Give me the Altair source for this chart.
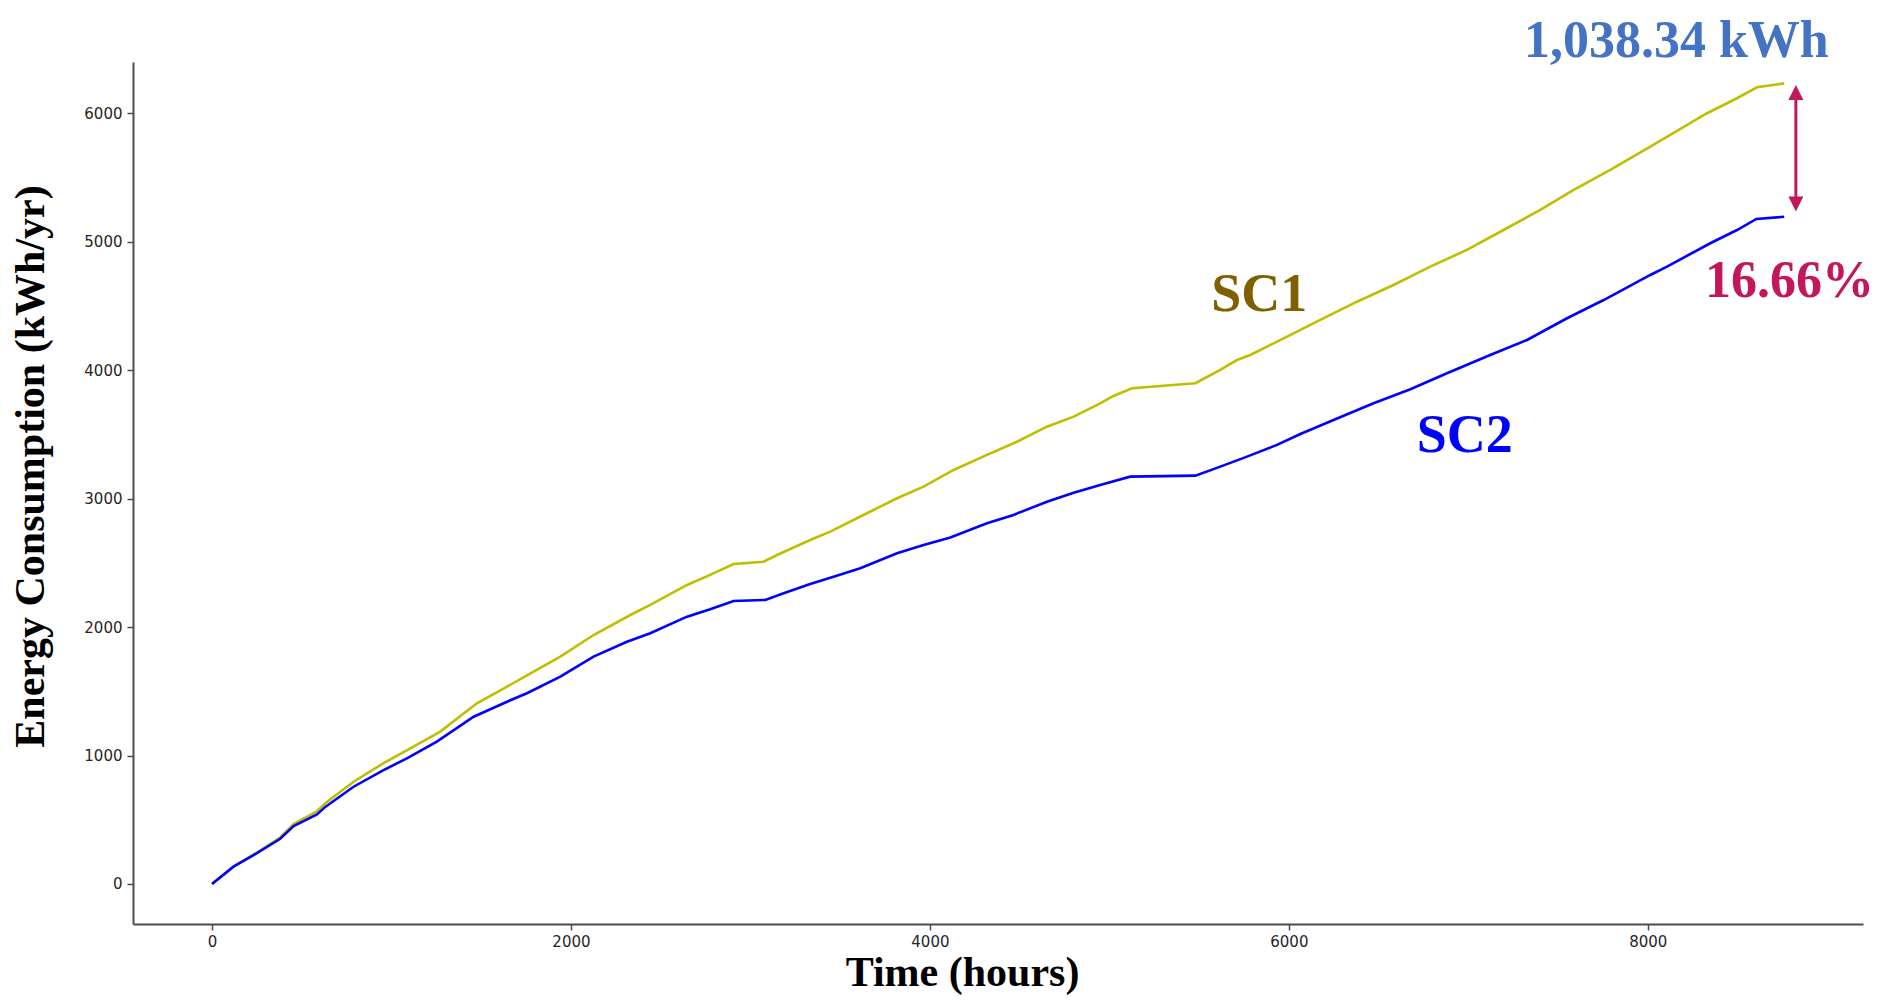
import altair as alt
import pandas as pd

# ---- data ----
sc1_hours = [0, 120, 232, 380, 455, 585, 631, 789, 956, 1123, 1272, 1476, 1644, 1792, 1941,
             2126, 2331, 2442, 2647, 2776, 2906, 3073, 3148, 3333, 3445, 3649, 3817, 3965,
             4132, 4318, 4485, 4652, 4801, 4949, 5023, 5126, 5479, 5618, 5711, 5785, 5971,
             6175, 6380, 6583, 6788, 6992, 7196, 7401, 7587, 7791, 8014, 8330, 8497, 8608, 8760]
sc1_kwh = [0, 136, 230, 362, 466, 566, 628, 796, 940, 1069, 1186, 1407, 1536, 1653, 1770,
           1938, 2094, 2172, 2328, 2406, 2491, 2509, 2561, 2678, 2743, 2886, 3003, 3093,
           3223, 3340, 3443, 3560, 3638, 3742, 3799, 3859, 3898, 4002, 4079, 4118, 4248,
           4391, 4533, 4663, 4806, 4936, 5091, 5247, 5403, 5559, 5740, 6000, 6117, 6202, 6232.5]

sc2_hours = [0, 120, 232, 380, 455, 585, 631, 789, 956, 1086, 1253, 1458, 1644, 1755, 1941,
             2126, 2312, 2442, 2647, 2776, 2906, 3083, 3185, 3333, 3463, 3612, 3817, 3965,
             4114, 4318, 4466, 4652, 4801, 4949, 5116, 5479, 5618, 5767, 5934, 6064, 6249,
             6472, 6677, 6881, 7122, 7327, 7550, 7754, 8014, 8107, 8348, 8497, 8605, 8760]
sc2_kwh = [0, 135, 224, 352, 450, 542, 600, 757, 887, 978, 1108, 1302, 1419, 1485, 1614,
           1770, 1886, 1952, 2081, 2139, 2203, 2211, 2263, 2336, 2392, 2458, 2574, 2639,
           2697, 2808, 2873, 2976, 3046, 3106, 3171, 3179, 3249, 3327, 3418, 3503, 3612,
           3742, 3851, 3976, 4118, 4235, 4404, 4546, 4741, 4806, 4988, 5091, 5177, 5194.2]

x_ticks = [0, 2000, 4000, 6000, 8000]
y_ticks = [0, 1000, 2000, 3000, 4000, 5000, 6000]

label_text = ["SC1", "SC2", "1,038.34 kWh", "16.66%"]
label_x = [5835, 6980, 8159, 8790]
label_y = [4463, 3359, 6440, 4572]
label_color = ["#7F6000", "#0000FF", "#4472C4", "#C2185B"]
label_size = [54, 54, 52, 52]

arrow_x = [8825]
arrow_low = [5293]
arrow_high = [6162]

# ---- tables ----
df = pd.concat([
    pd.DataFrame({"hour": sc1_hours, "kwh": sc1_kwh, "series": "SC1"}),
    pd.DataFrame({"hour": sc2_hours, "kwh": sc2_kwh, "series": "SC2"}),
])
labels = pd.DataFrame({"text": label_text, "x": label_x, "y": label_y,
                       "color": label_color, "size": label_size})
arrow = pd.DataFrame({"x": arrow_x, "lo": arrow_low, "hi": arrow_high})

xscale = alt.Scale(domain=[-440, 9199], nice=False, zero=False)
yscale = alt.Scale(domain=[-311.6, 6399], nice=False, zero=False)

axis_common = dict(
    labelFont="DejaVu Sans", labelFontSize=15, labelColor="#262626",
    domainColor="#4d4d4d", domainWidth=2, tickColor="#4d4d4d", tickWidth=1.5,
    tickSize=6, grid=False, format="d",
    titleFont="Liberation Serif", titleFontWeight="bold", titleFontSize=42,
    titleColor="#000000",
)

x_enc = alt.X("hour:Q", scale=xscale,
              axis=alt.Axis(values=x_ticks, title="Time (hours)", labelPadding=4,
                            titleX=829, titleY=61, titleAlign="center",
                            titleBaseline="alphabetic", **axis_common))
y_enc = alt.Y("kwh:Q", scale=yscale,
              axis=alt.Axis(values=y_ticks, title="Energy Consumption (kWh/yr)",
                            labelPadding=5, titleX=-90, titleY=404, titleAngle=-90,
                            titleAlign="center", titleBaseline="alphabetic",
                            **axis_common))

lines = alt.Chart(df).mark_line(strokeWidth=2.6).encode(
    x=x_enc, y=y_enc,
    color=alt.Color("series:N", scale=alt.Scale(domain=["SC1", "SC2"],
                                                range=["#BFBF00", "#0000FF"]),
                    legend=None),
    order=alt.Order("hour:Q"),
)

rule = alt.Chart(arrow).mark_rule(color="#C2185B", strokeWidth=3).encode(
    x=alt.X("x:Q", scale=xscale), y=alt.Y("lo:Q", scale=yscale), y2="hi:Q")
head_up = alt.Chart(arrow).mark_point(shape="M0,-1L1,1L-1,1Z", filled=True, size=225,
                                      color="#C2185B", opacity=1).encode(
    x=alt.X("x:Q", scale=xscale), y=alt.Y("hi:Q", scale=yscale))
head_down = alt.Chart(arrow).mark_point(shape="M0,1L1,-1L-1,-1Z", filled=True, size=225,
                                        color="#C2185B", opacity=1).encode(
    x=alt.X("x:Q", scale=xscale), y=alt.Y("lo:Q", scale=yscale))

texts = alt.Chart(labels).mark_text(font="Liberation Serif", fontWeight="bold",
                                    align="center", baseline="alphabetic").encode(
    x=alt.X("x:Q", scale=xscale), y=alt.Y("y:Q", scale=yscale),
    text="text:N",
    color=alt.Color("color:N", scale=None),
    size=alt.Size("size:Q", scale=None),
)

chart = alt.layer(lines, rule, head_up, head_down, texts).properties(
    width=1730, height=862,
    autosize=alt.AutoSizeParams(type="none"),
    padding={"left": 125, "top": 54, "right": 16, "bottom": 71},
    background="white",
).configure_view(stroke=None)

chart.save("out.html", embed_options={"renderer": "svg", "actions": False})
